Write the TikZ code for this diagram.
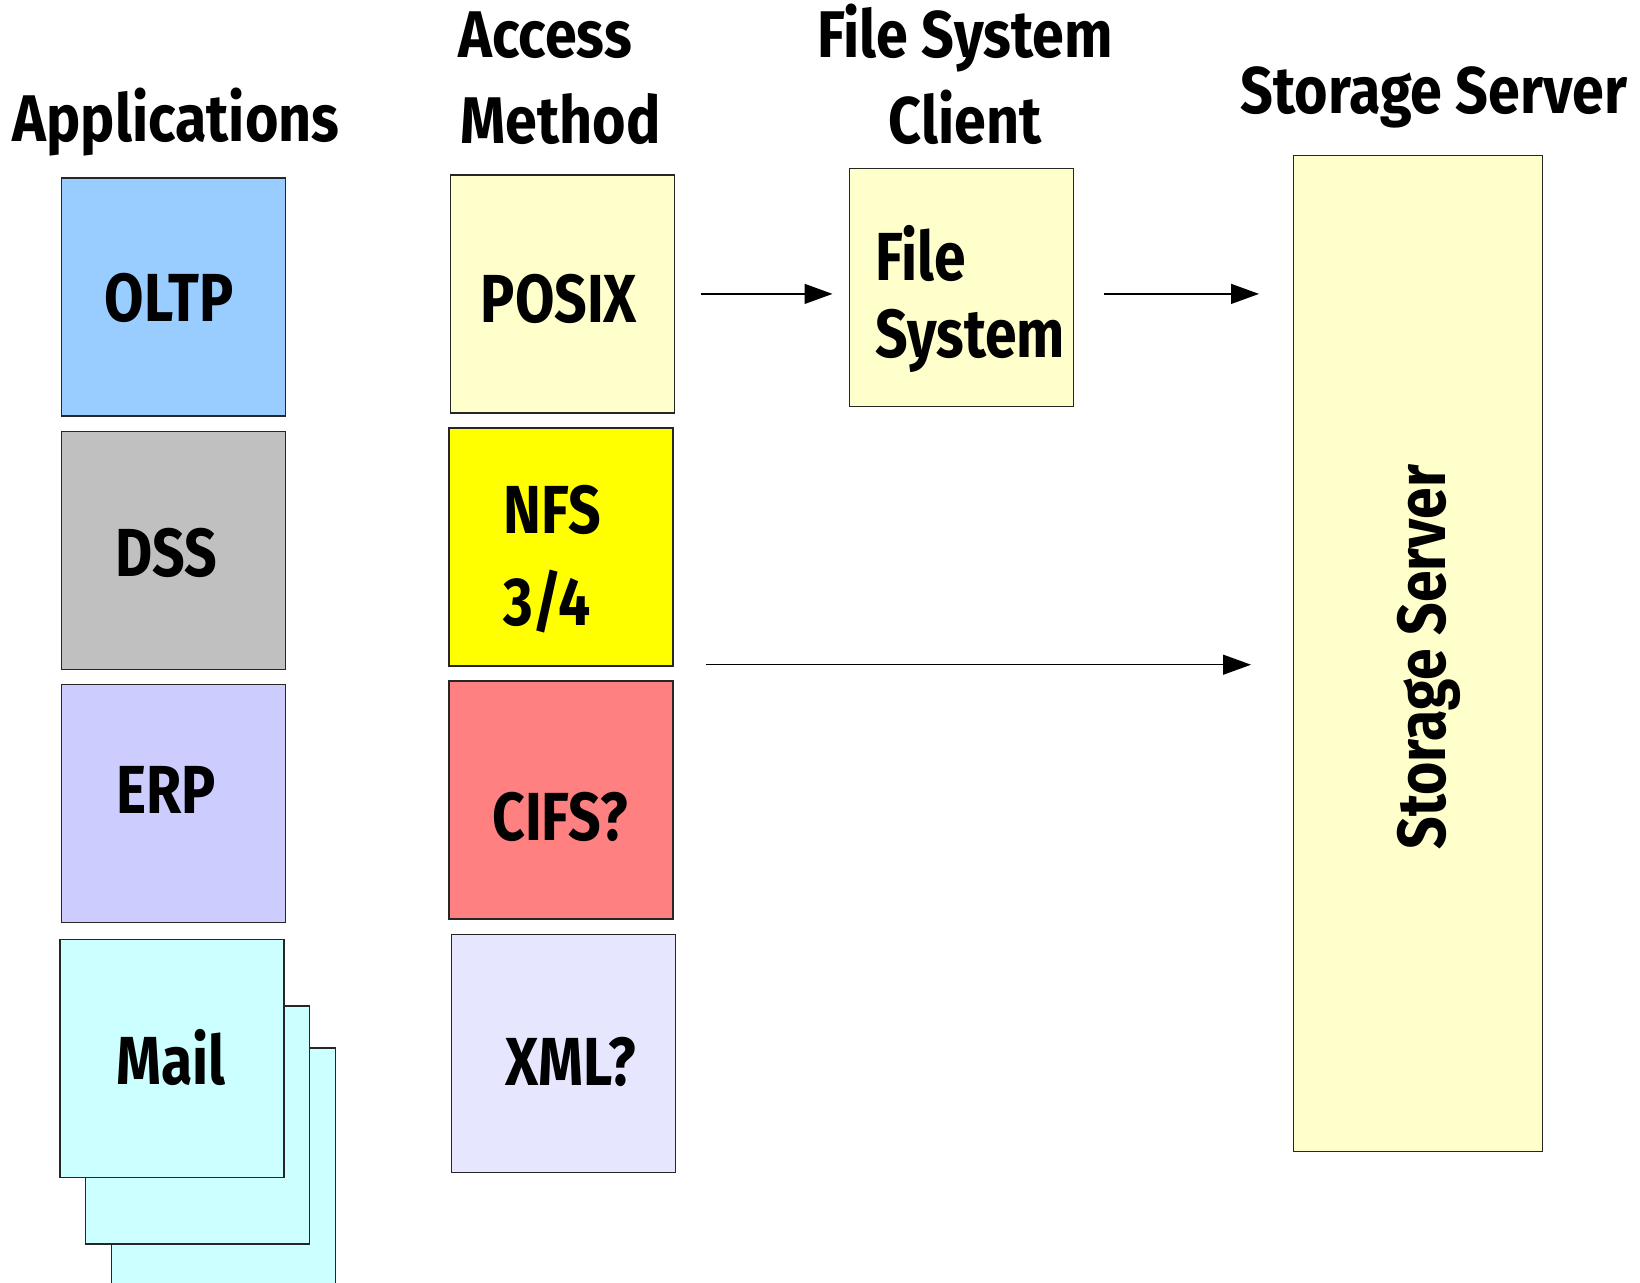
\documentclass[tikz,border=0pt]{standalone}
\usepackage{fontspec}
\newfontfamily\lblfont{Fira Sans}[FakeStretch=0.84]
\newfontfamily\hdrfont{Fira Sans}[FakeStretch=0.87]
\usetikzlibrary{arrows.meta,calc}
\definecolor{cOltp}{HTML}{99CCFF}
\definecolor{cDss}{HTML}{C0C0C0}
\definecolor{cErp}{HTML}{CCCCFF}
\definecolor{cMail}{HTML}{CCFFFF}
\definecolor{cPale}{HTML}{FFFFCC}
\definecolor{cNfs}{HTML}{FFFF00}
\definecolor{cCifs}{HTML}{FF8080}
\definecolor{cXml}{HTML}{E6E6FF}
\begin{document}
\begin{tikzpicture}[x=0.5pt,y=-0.5pt,
  box/.style={draw=black!85,line width=0.7pt,inner sep=0pt,
    minimum width=112pt,minimum height=119pt},
  lbl/.style={font=\lblfont\bfseries\fontsize{34}{44}\selectfont,inner sep=0pt},
  hdr/.style={font=\hdrfont\bfseries\fontsize{33}{43}\selectfont,inner sep=0pt},
  arr/.style={line width=0.7pt,-{Triangle[length=14pt,width=10pt]}}]
\useasboundingbox (0,0) rectangle (1640,1282);

% column headers
\node[hdr,anchor=base] (hApp) at (176,141) {Applications};
\node[hdr,anchor=base west] (hAcc1) at (458,57) {Access};
\node[hdr,anchor=base west] (hAcc2) at (460,143) {Method};
\node[hdr,anchor=base] (hFs1) at (965,57) {File System};
\node[hdr,anchor=base] (hFs2) at (965,143) {Client};
\node[hdr,anchor=base] (hSs) at (1434,113) {Storage Server};

% applications
\node[box,fill=cOltp] (oltp) at (173.6,297) {};
\node[box,fill=cDss] (dss) at (173.6,550.2) {};
\node[box,fill=cErp] (erp) at (173.7,803.2) {};
\node[box,fill=cMail] (mail3) at (223.3,1167) {};
\node[box,fill=cMail] (mail2) at (197.5,1124.9) {};
\node[box,fill=cMail] (mail) at (171.8,1058.5) {};
\node[lbl] (tOltp) at (169,297.6) {OLTP};
\node[lbl] (tDss) at (166,553) {DSS};
\node[lbl] (tErp) at (166,790) {ERP};
\node[lbl] (tMail) at (171,1057) {Mail};

% access methods
\node[box,fill=cPale] (posix) at (562.7,293.9) {};
\node[box,fill=cNfs] (nfs) at (561.1,547) {};
\node[box,fill=cCifs] (cifs) at (561.1,800.1) {};
\node[box,fill=cXml] (xml) at (563.2,1053.2) {};
\node[lbl] (tPosix) at (559,298.6) {POSIX};
\node[lbl,anchor=west] (tNfs1) at (503,509.9) {NFS};
\node[lbl,anchor=west] (tNfs2) at (503,601.9) {3/4};
\node[lbl] (tCifs) at (560,817.4) {CIFS?};
\node[lbl] (tXml) at (570.5,1061.6) {XML?};

% file system client
\node[box,fill=cPale] (fs) at (961.2,287.6) {};
\node[lbl,anchor=west] (tFs1) at (875,253.6) {File};
\node[lbl,anchor=west] (tFs2) at (875,340.4) {System};

% storage server
\node[box,fill=cPale,minimum width=124.5pt,minimum height=498pt] (ss) at (1418.2,653.6) {};
\node[lbl,rotate=90] (tSs) at (1428.7,657.3) {Storage Server};

% data paths
\draw[arr,shorten <=13pt,shorten >=8pt] (posix.east) -- (posix.east -| fs.west);
\draw[arr,shorten <=15pt,shorten >=17pt] (fs.east |- posix.east) -- (ss.west |- posix.east);
\coordinate (nfsOut) at ($(nfs.south east)+(0,-2)$);
\draw[arr,shorten <=16pt,shorten >=21pt] (nfsOut) -- (nfsOut -| ss.west);
\end{tikzpicture}
\end{document}
